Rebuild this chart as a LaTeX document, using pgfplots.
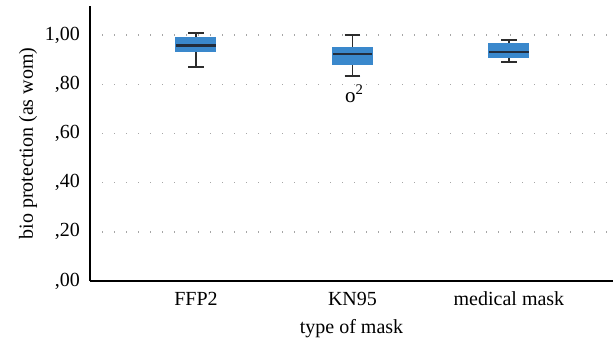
\documentclass[border=0pt]{standalone}
\usepackage{fontspec}
\setmainfont{Liberation Serif}
\usepackage{pgfplots}
\pgfplotsset{compat=1.18}
\usepgfplotslibrary{statistics}
\definecolor{boxblue}{RGB}{58,136,204}
\definecolor{medcol}{RGB}{35,45,60}
\definecolor{whiskcol}{RGB}{45,45,45}
\begin{document}
\fontsize{10pt}{12pt}\selectfont
\begin{tikzpicture}
\path[use as bounding box] (-45pt,-31pt) rectangle (261.5pt,140.5pt);
\begin{axis}[
  at={(0,0)}, anchor=south west,
  scale only axis, width=261.5pt, height=137.5pt,
  xmin=0.323, xmax=3.665, ymin=0, ymax=1.118,
  axis x line*=bottom, axis y line*=left,
  axis line style={black, line width=0.6pt},
  xtick={1,2,3}, xticklabels={FFP2,KN95,medical mask},
  ytick={0,0.2,0.4,0.6,0.8,1.0},
  yticklabels={{,00},{,20},{,40},{,60},{,80},{1,00}},
  major tick length=0pt,
  ymajorgrids,
  grid style={gray!70, line width=0.7pt, dash pattern=on 0.7pt off 5.3pt},
  xticklabel style={yshift=-2pt, font=\fontsize{10pt}{12pt}\selectfont},
  yticklabel style={xshift=-1.5pt, font=\fontsize{10pt}{12pt}\selectfont},
  ylabel={bio protection (as wom)},
  xlabel={type of mask},
  label style={font=\fontsize{10pt}{12pt}\selectfont},
  ylabel style={at={(axis description cs:-0.1185,0.5)}, anchor=center},
  xlabel style={yshift=0pt},
  boxplot/draw direction=y,
  boxplot/box extend=0.25,
  boxplot/whisker extend=0.1,
  /pgf/number format/assume math mode=true,
]
\addplot[boxplot prepared={draw position=1, lower whisker=0.870, lower quartile=0.936, median=0.957, upper quartile=0.989, upper whisker=1.007},
  fill=boxblue, draw=boxblue, line width=0.9pt,
  boxplot/every whisker/.style={draw=whiskcol, line width=0.9pt},
  boxplot/every median/.style={draw=medcol, line width=1.2pt}] coordinates {};
\addplot[boxplot prepared={draw position=2, lower whisker=0.833, lower quartile=0.881, median=0.924, upper quartile=0.946, upper whisker=1.000},
  fill=boxblue, draw=boxblue, line width=0.9pt,
  boxplot/every whisker/.style={draw=whiskcol, line width=0.9pt},
  boxplot/every median/.style={draw=medcol, line width=1.2pt}] coordinates {};
\addplot[boxplot prepared={draw position=3, lower whisker=0.890, lower quartile=0.912, median=0.930, upper quartile=0.963, upper whisker=0.981},
  fill=boxblue, draw=boxblue, line width=0.9pt,
  boxplot/every whisker/.style={draw=whiskcol, line width=0.9pt},
  boxplot/every median/.style={draw=medcol, line width=1.2pt}] coordinates {};
\addplot[draw=none, nodes near coords={o\textsuperscript{2}},
  every node near coord/.append style={anchor=base, inner sep=0pt, xshift=1pt, font=\fontsize{10.5pt}{12pt}\selectfont}]
  coordinates {(2,0.727)};
\end{axis}
\end{tikzpicture}
\end{document}
